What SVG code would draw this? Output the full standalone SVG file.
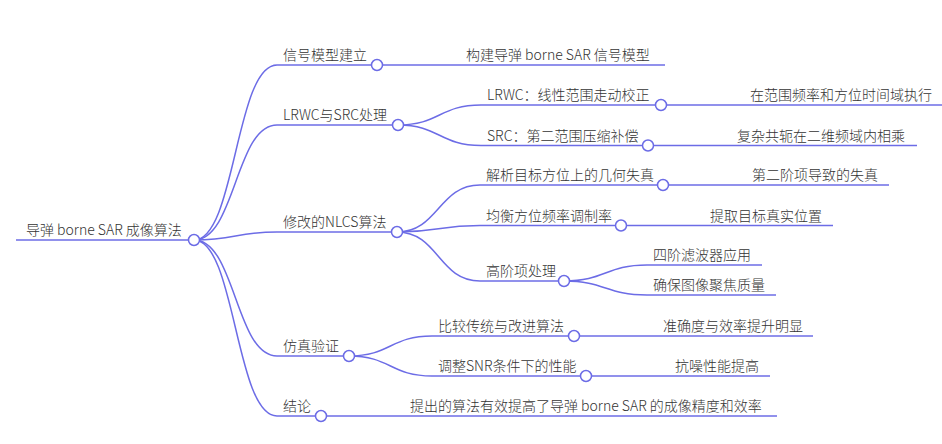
<svg xmlns="http://www.w3.org/2000/svg" width="942" height="444" viewBox="0 0 942 444">
<style>
.ln{fill:none;stroke:#6c6ce6;stroke-width:1.5}
.ci{fill:#fff;stroke:#6c6ce6;stroke-width:1.5}
text{font-family:"Noto Sans CJK SC","Microsoft YaHei",sans-serif;font-size:14px;font-weight:300;fill:#333}
</style>
<rect width="942" height="444" fill="#fff"/>
<g id="connectors" class="ln">
<path d="M194 240C235.5 240 235.5 65 277 65"/>
<path d="M194 240C235.5 240 235.5 125 277 125"/>
<path d="M194 240C235.5 240 235.5 232 277 232"/>
<path d="M194 240C235.5 240 235.5 356 277 356"/>
<path d="M194 240C235.5 240 235.5 416 277 416"/>
<path d="M377 65L460 65"/>
<path d="M398 125C439.5 125 439.5 105 481 105"/>
<path d="M398 125C439.5 125 439.5 145.5 481 145.5"/>
<path d="M397 232C438.5 232 438.5 185 480 185"/>
<path d="M397 232C438.5 232 438.5 225.5 480 225.5"/>
<path d="M397 232C438.5 232 438.5 281 480 281"/>
<path d="M349 356C390.5 356 390.5 336 432 336"/>
<path d="M349 356C390.5 356 390.5 376 432 376"/>
<path d="M321 416L404 416"/>
<path d="M661 105L744 105"/>
<path d="M648 145.5L731 145.5"/>
<path d="M663 185L746 185"/>
<path d="M621 225.5L704 225.5"/>
<path d="M564 281C605.5 281 605.5 265 647 265"/>
<path d="M564 281C605.5 281 605.5 295 647 295"/>
<path d="M574 336L657 336"/>
<path d="M586 376L669 376"/>
</g>
<g id="root"><path class="ln" d="M16 240H194"/><text x="26" y="235">导弹 borne SAR 成像算法</text><circle class="ci" cx="194" cy="240" r="5.5"/></g>
<g id="n1"><path class="ln" d="M277 65H377"/><text x="283" y="60">信号模型建立</text><circle class="ci" cx="377" cy="65" r="5.5"/></g>
<g id="n1a"><path class="ln" d="M460 65H665"/><text x="466" y="60">构建导弹 borne SAR 信号模型</text></g>
<g id="n2"><path class="ln" d="M277 125H398"/><text x="283" y="120">LRWC与SRC处理</text><circle class="ci" cx="398" cy="125" r="5.5"/></g>
<g id="n2a"><path class="ln" d="M481 105H661"/><text x="487" y="100">LRWC：线性范围走动校正</text><circle class="ci" cx="661" cy="105" r="5.5"/></g>
<g id="n2a1"><path class="ln" d="M744 105H942"/><text x="750" y="100">在范围频率和方位时间域执行</text></g>
<g id="n2b"><path class="ln" d="M481 145.5H648"/><text x="487" y="140.5">SRC：第二范围压缩补偿</text><circle class="ci" cx="648" cy="145.5" r="5.5"/></g>
<g id="n2b1"><path class="ln" d="M731 145.5H917"/><text x="737" y="140.5">复杂共轭在二维频域内相乘</text></g>
<g id="n3"><path class="ln" d="M277 232H397"/><text x="283" y="227">修改的NLCS算法</text><circle class="ci" cx="397" cy="232" r="5.5"/></g>
<g id="n3a"><path class="ln" d="M480 185H663"/><text x="486" y="180">解析目标方位上的几何失真</text><circle class="ci" cx="663" cy="185" r="5.5"/></g>
<g id="n3a1"><path class="ln" d="M746 185H889"/><text x="752" y="180">第二阶项导致的失真</text></g>
<g id="n3b"><path class="ln" d="M480 225.5H621"/><text x="486" y="220.5">均衡方位频率调制率</text><circle class="ci" cx="621" cy="225.5" r="5.5"/></g>
<g id="n3b1"><path class="ln" d="M704 225.5H833"/><text x="710" y="220.5">提取目标真实位置</text></g>
<g id="n3c"><path class="ln" d="M480 281H564"/><text x="486" y="276">高阶项处理</text><circle class="ci" cx="564" cy="281" r="5.5"/></g>
<g id="n3c1"><path class="ln" d="M647 265H762"/><text x="653" y="260">四阶滤波器应用</text></g>
<g id="n3c2"><path class="ln" d="M647 295H776"/><text x="653" y="290">确保图像聚焦质量</text></g>
<g id="n4"><path class="ln" d="M277 356H349"/><text x="283" y="351">仿真验证</text><circle class="ci" cx="349" cy="356" r="5.5"/></g>
<g id="n4a"><path class="ln" d="M432 336H574"/><text x="438" y="331">比较传统与改进算法</text><circle class="ci" cx="574" cy="336" r="5.5"/></g>
<g id="n4a1"><path class="ln" d="M657 336H813"/><text x="663" y="331">准确度与效率提升明显</text></g>
<g id="n4b"><path class="ln" d="M432 376H586"/><text x="438" y="371">调整SNR条件下的性能</text><circle class="ci" cx="586" cy="376" r="5.5"/></g>
<g id="n4b1"><path class="ln" d="M669 376H770"/><text x="675" y="371">抗噪性能提高</text></g>
<g id="n5"><path class="ln" d="M277 416H321"/><text x="283" y="411">结论</text><circle class="ci" cx="321" cy="416" r="5.5"/></g>
<g id="n5a"><path class="ln" d="M404 416H777"/><text x="410" y="411">提出的算法有效提高了导弹 borne SAR 的成像精度和效率</text></g>
</svg>
